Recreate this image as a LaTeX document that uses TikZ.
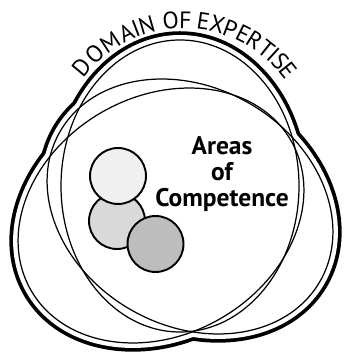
\documentclass[tikz,border=0pt]{standalone}
\usepackage{fontspec}
\setsansfont{PT Sans}
\definecolor{compLight}{HTML}{F0F0F0}
\definecolor{compMid}{HTML}{D9D9D9}
\definecolor{compDark}{HTML}{BDBDBD}

\begin{document}
\begin{tikzpicture}[x=0.02cm,y=0.02cm,
  lens/.style={line width=0.7pt},
  rim/.style={line width=0.15cm},
  comp/.style={circle,draw,line width=1.1pt,minimum size=1.12cm,inner sep=0pt},
  glyph/.style={inner sep=0pt,font=\sffamily\fontsize{13.5}{14}\selectfont}]
\useasboundingbox (0,0) rectangle (348,354);
\coordinate (hub) at (183.5,201);
% outer rim: thick ellipses, inner half wiped white
\draw[rim] (180,168) ellipse[x radius=124,y radius=151];
\draw[rim,rotate around={30:(161,138.5)}] (161,138.5) ellipse[x radius=155,y radius=124];
\draw[rim,rotate around={-30:(190,147.5)}] (190,147.5) ellipse[x radius=155,y radius=124];
\fill[white] (180,168) ellipse[x radius=124,y radius=151];
\fill[white,rotate around={30:(161,138.5)}] (161,138.5) ellipse[x radius=155,y radius=124];
\fill[white,rotate around={-30:(190,147.5)}] (190,147.5) ellipse[x radius=155,y radius=124];
% three overlapping fields
\draw[lens] (180,168) ellipse[x radius=119,y radius=146];
\draw[lens,rotate around={30:(161,138.5)}] (161,138.5) ellipse[x radius=150,y radius=119];
\draw[lens,rotate around={-30:(190,147.5)}] (190,147.5) ellipse[x radius=150,y radius=119];
% areas of competence
\node[comp,fill=compMid] (c2) at (117,133) {};
\node[comp,fill=compLight] (c1) at (118,178) {};
\node[comp,fill=compDark] (c3) at (155.5,110) {};
\node[font=\sffamily\bfseries\fontsize{14.5}{14.8}\selectfont,align=center] (areas) at (222,180) {Areas\\of\\Competence};
% curved title, one letter at a time
\foreach \ch/\ang [count=\k] in {D/140,O/132,M/123.5,A/115.5,I/111,N/106,
    O/95.5,F/89.2,E/81.4,X/75.3,P/69.4,E/63.3,R/57.7,T/51.6,I/47.5,S/43.3,E/38.4}
  \node[glyph,rotate=\ang-90] (dt\k) at ([shift={(\ang:133)}]hub) {\ch};
\end{tikzpicture}
\end{document}
